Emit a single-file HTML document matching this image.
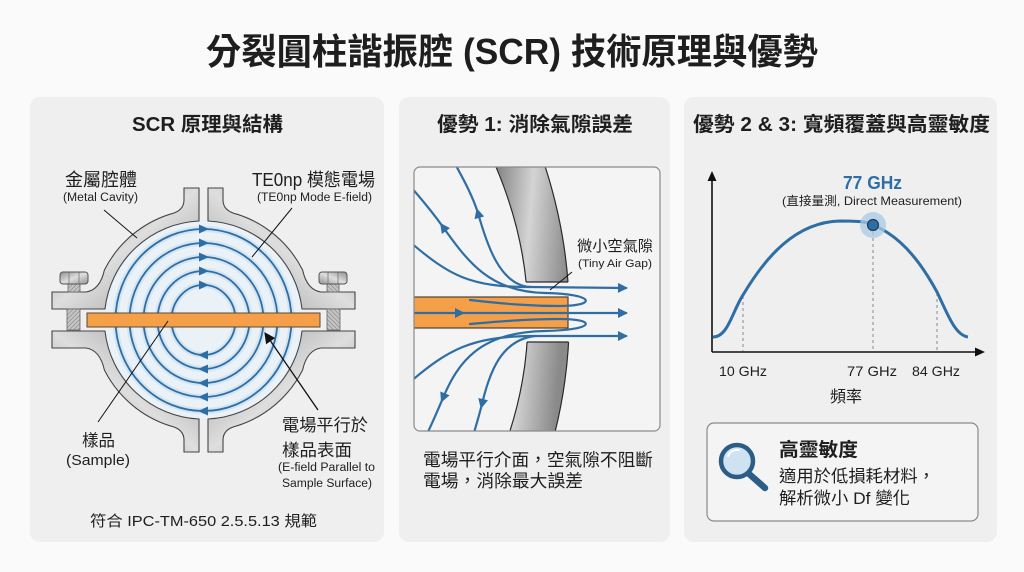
<!DOCTYPE html>
<html><head><meta charset="utf-8">
<style>
html,body{margin:0;padding:0;background:#fafafa;}
svg{display:block;}
text{font-family:"Liberation Sans","Noto Sans CJK TC",sans-serif;fill:#1e1e1e;}
.b{font-weight:bold;}
</style></head>
<body>
<svg width="1024" height="572" viewBox="0 0 1024 572" xmlns="http://www.w3.org/2000/svg">
<defs>
  <linearGradient id="metal" x1="0" y1="0" x2="1" y2="1">
    <stop offset="0" stop-color="#8e8e8e"/>
    <stop offset="0.5" stop-color="#dedede"/>
    <stop offset="1" stop-color="#949494"/>
  </linearGradient>
  <linearGradient id="wall" x1="0" y1="0" x2="1" y2="0.3">
    <stop offset="0" stop-color="#7a7a7a"/>
    <stop offset="0.5" stop-color="#d4d4d4"/>
    <stop offset="1" stop-color="#8a8a8a"/>
  </linearGradient>
  <pattern id="hatch" width="3" height="3" patternUnits="userSpaceOnUse" patternTransform="rotate(45)">
    <rect width="3" height="3" fill="#c4c4c4"/>
    <line x1="0" y1="0" x2="0" y2="3" stroke="#7a7a7a" stroke-width="1"/>
  </pattern>
  <marker id="ah" viewBox="0 0 10 10" refX="8" refY="5" markerUnits="userSpaceOnUse" markerWidth="11" markerHeight="10" orient="auto">
    <path d="M0,0 L10,5 L0,10 z" fill="#2f6ea5"/>
  </marker>
  <marker id="am" viewBox="0 0 10 10" refX="5" refY="5" markerUnits="userSpaceOnUse" markerWidth="11" markerHeight="10" orient="auto">
    <path d="M0,0 L10,5 L0,10 z" fill="#2f6ea5"/>
  </marker>
  <marker id="ak" viewBox="0 0 10 10" refX="9" refY="5" markerUnits="userSpaceOnUse" markerWidth="12" markerHeight="11" orient="auto">
    <path d="M0,0 L10,5 L0,10 z" fill="#111"/>
  </marker>
  <clipPath id="box2"><rect x="414" y="167" width="246" height="264" rx="6"/></clipPath>
  <clipPath id="wallclip"><rect x="400" y="150" width="270" height="132"/><rect x="400" y="342" width="270" height="100"/></clipPath>
</defs>

<!-- Title -->
<text class="b" x="206" y="64" font-size="36" textLength="612" lengthAdjust="spacingAndGlyphs">分裂圓柱諧振腔 (SCR) 技術原理與優勢</text>

<!-- Panels -->
<rect x="30" y="97" width="354" height="445" rx="10" fill="#efefef"/>
<rect x="399" y="97" width="271" height="445" rx="10" fill="#efefef"/>
<rect x="684" y="97" width="313" height="445" rx="10" fill="#efefef"/>

<!-- Panel headers -->
<text class="b" x="132" y="131" font-size="20" textLength="151" lengthAdjust="spacingAndGlyphs">SCR 原理與結構</text>
<text class="b" x="437" y="131" font-size="20" textLength="196" lengthAdjust="spacingAndGlyphs">優勢 1: 消除氣隙誤差</text>
<text class="b" x="693" y="131" font-size="20" textLength="297" lengthAdjust="spacingAndGlyphs">優勢 2 &amp; 3: 寬頻覆蓋與高靈敏度</text>

<!-- ============ Panel 1 : cavity ============ -->
<circle cx="203.5" cy="320" r="99" fill="#eaf2f8"/>
<g fill="none">
  <ellipse cx="203.5" cy="320" rx="88" ry="91" stroke="#d3e5f2" stroke-width="6"/>
  <ellipse cx="203.5" cy="320" rx="74" ry="77" stroke="#d3e5f2" stroke-width="6"/>
  <ellipse cx="203.5" cy="320" rx="60" ry="63" stroke="#d3e5f2" stroke-width="6"/>
  <ellipse cx="203.5" cy="320" rx="46" ry="49" stroke="#d3e5f2" stroke-width="6"/>
  <ellipse cx="203.5" cy="320" rx="32" ry="35" stroke="#d3e5f2" stroke-width="6"/>
  <ellipse cx="203.5" cy="320" rx="88" ry="91" stroke="#2f6ea5" stroke-width="1.8"/>
  <ellipse cx="203.5" cy="320" rx="74" ry="77" stroke="#2f6ea5" stroke-width="1.8"/>
  <ellipse cx="203.5" cy="320" rx="60" ry="63" stroke="#2f6ea5" stroke-width="1.8"/>
  <ellipse cx="203.5" cy="320" rx="46" ry="49" stroke="#2f6ea5" stroke-width="1.8"/>
  <ellipse cx="203.5" cy="320" rx="32" ry="35" stroke="#2f6ea5" stroke-width="1.8"/>
</g>
<g fill="#2f6ea5">
  <polygon points="209,229 199,224.5 199,233.5"/>
  <polygon points="209,243 199,238.5 199,247.5"/>
  <polygon points="209,257 199,252.5 199,261.5"/>
  <polygon points="209,271 199,266.5 199,275.5"/>
  <polygon points="209,285 199,280.5 199,289.5"/>
  <polygon points="198,355 208,350.5 208,359.5"/>
  <polygon points="198,369 208,364.5 208,373.5"/>
  <polygon points="198,383 208,378.5 208,387.5"/>
  <polygon points="198,397 208,392.5 208,401.5"/>
  <polygon points="198,411 208,406.5 208,415.5"/>
</g>
<!-- sample -->
<rect x="87" y="313" width="233" height="14" fill="#f5a048" stroke="#5a4a3a" stroke-width="1"/>

<!-- cavity quarter pieces -->
<g id="cq">
  <path d="M184,188 L199,188 L199,221 A99 99 0 0 0 105,309 L52,309 L52,292 L86,292 Q100,290 104.4,270 A111 111 0 0 1 170,214.2 Q184,211 184,200 Z" fill="url(#metal)" stroke="#454545" stroke-width="1.1"/>
</g>
<use href="#cq" transform="matrix(-1,0,0,1,407,0)"/>
<use href="#cq" transform="matrix(1,0,0,-1,0,640)"/>
<use href="#cq" transform="matrix(-1,0,0,-1,407,640)"/>

<!-- bolts -->
<g id="bolt">
  <rect x="68" y="284" width="12" height="8" fill="url(#hatch)" stroke="#666" stroke-width="0.8"/>
  <rect x="67" y="309" width="13" height="21" fill="url(#hatch)" stroke="#666" stroke-width="0.8"/>
  <rect x="60" y="272" width="28" height="12" rx="3" fill="url(#metal)" stroke="#555" stroke-width="1"/>
  <line x1="69" y1="272.5" x2="69" y2="283.5" stroke="#777" stroke-width="0.8"/>
  <line x1="79" y1="272.5" x2="79" y2="283.5" stroke="#777" stroke-width="0.8"/>
</g>
<use href="#bolt" transform="matrix(-1,0,0,1,407,0)"/>

<!-- panel 1 leaders -->
<g stroke="#111" stroke-width="1" fill="none">
  <line x1="104" y1="210" x2="137" y2="238"/>
  <line x1="292" y1="208" x2="252" y2="257"/>
  <line x1="98" y1="422" x2="168" y2="321"/>
  <line x1="318" y1="410" x2="265" y2="333" stroke-width="1.3" marker-end="url(#ak)"/>
</g>

<!-- panel 1 labels -->
<text x="65" y="186" font-size="18" textLength="72" lengthAdjust="spacingAndGlyphs">金屬腔體</text>
<text x="63" y="201" font-size="11.5" textLength="75" lengthAdjust="spacingAndGlyphs">(Metal Cavity)</text>
<text x="252" y="186" font-size="18" textLength="123" lengthAdjust="spacingAndGlyphs">TE0np 模態電場</text>
<text x="257" y="201" font-size="11.5" textLength="115" lengthAdjust="spacingAndGlyphs">(TE0np Mode E-field)</text>
<text x="82" y="446" font-size="16.5" textLength="33" lengthAdjust="spacingAndGlyphs">樣品</text>
<text x="66" y="465" font-size="15" textLength="64" lengthAdjust="spacingAndGlyphs">(Sample)</text>
<text x="282" y="431" font-size="17" textLength="86" lengthAdjust="spacingAndGlyphs">電場平行於</text>
<text x="282" y="456" font-size="17" textLength="70" lengthAdjust="spacingAndGlyphs">樣品表面</text>
<text x="278" y="471" font-size="11.5" textLength="97" lengthAdjust="spacingAndGlyphs">(E-field Parallel to</text>
<text x="282" y="487" font-size="11.5" textLength="90" lengthAdjust="spacingAndGlyphs">Sample Surface)</text>
<text x="90" y="526" font-size="15" textLength="227" lengthAdjust="spacingAndGlyphs">符合 IPC-TM-650 2.5.5.13 規範</text>

<!-- ============ Panel 2 ============ -->
<rect x="414" y="167" width="246" height="264" rx="6" fill="#f4f4f4"/>
<g clip-path="url(#box2)">
  <g clip-path="url(#wallclip)">
    <path d="M493,160 Q555,300 507,440 L553,440 Q590,300 543,160 Z" fill="url(#wall)" stroke="#2a2a2a" stroke-width="1.2"/>
  </g>
  <line x1="526" y1="282" x2="568" y2="282" stroke="#2a2a2a" stroke-width="1.2"/>
  <line x1="527" y1="342" x2="568.5" y2="342" stroke="#2a2a2a" stroke-width="1.2"/>
  <!-- sample -->
  <rect x="408" y="297" width="160" height="31" fill="#f5a048" stroke="#4a4036" stroke-width="1.2"/>
  <g fill="none" stroke="#2f6ea5" stroke-width="2.2" stroke-linecap="round">
    <!-- top lines -->
    <path d="M530,287 C500,285 487,245 478,213" marker-end="url(#am)"/>
    <path d="M478,213 C471,192 462,177 453,160"/>
    <path d="M530,287 L626,288" marker-end="url(#ah)"/>
    <path d="M545,293 C490,292 468,262 443,227" marker-end="url(#am)"/>
    <path d="M443,227 C433,213 424,202 410,186"/>
    <path d="M545,293 C596,294 597,306 560,306 C530,306 505,304 470,300"/>
    <path d="M410,242 C450,276 470,287 530,287"/>
    <!-- centre -->
    <path d="M410,313 L460,313" marker-end="url(#am)"/>
    <path d="M460,313 L626,313" marker-end="url(#ah)"/>
    <!-- bottom lines -->
    <path d="M410,382 C448,350 470,337 530,336 L626,336" marker-end="url(#ah)"/>
    <path d="M545,331 C480,332 458,362 443,398" marker-end="url(#am)"/>
    <path d="M443,398 C437,412 432,424 426,436"/>
    <path d="M545,331 C596,330 597,319 560,319 C530,319 505,321 470,324"/>
    <path d="M535,336 C502,340 490,370 482,404" marker-end="url(#am)"/>
    <path d="M482,404 C479,416 476,426 473,436"/>
  </g>
  <line x1="572" y1="272" x2="550" y2="290" stroke="#111" stroke-width="1"/>
</g>
<rect x="414" y="167" width="246" height="264" rx="6" fill="none" stroke="#8a8a8a" stroke-width="1.2"/>

<text x="577" y="251" font-size="15" textLength="76" lengthAdjust="spacingAndGlyphs">微小空氣隙</text>
<text x="578" y="267" font-size="11" textLength="74" lengthAdjust="spacingAndGlyphs">(Tiny Air Gap)</text>
<text x="423" y="466" font-size="17.5" textLength="230" lengthAdjust="spacingAndGlyphs">電場平行介面，空氣隙不阻斷</text>
<text x="423" y="487" font-size="17.5" textLength="160" lengthAdjust="spacingAndGlyphs">電場，消除最大誤差</text>

<!-- ============ Panel 3 ============ -->
<g stroke="#111" stroke-width="1.6">
  <line x1="712" y1="352" x2="712" y2="180"/>
  <line x1="712" y1="352" x2="976" y2="352"/>
</g>
<polygon points="712,171 707.5,181 716.5,181" fill="#111"/>
<polygon points="985,352 975,347.5 975,356.5" fill="#111"/>
<g stroke="#8a8a8a" stroke-width="1" stroke-dasharray="3,3">
  <line x1="743" y1="296" x2="743" y2="351"/>
  <line x1="873" y1="226" x2="873" y2="351"/>
  <line x1="937" y1="293" x2="937" y2="351"/>
</g>
<path d="M713,337 C728,337 732,312 743,295 C765,258 795,222 840,221 C860,221 868,222 873,225 C905,238 925,270 937,292 C948,315 955,335 968,337" fill="none" stroke="#2f6ea5" stroke-width="3"/>
<circle cx="873" cy="225" r="13" fill="#a9c9e4" opacity="0.75"/>
<circle cx="873" cy="225" r="5.5" fill="#2f6ea5" stroke="#1d3e5c" stroke-width="1.2"/>

<text class="b" x="843" y="189" font-size="18" textLength="59" lengthAdjust="spacingAndGlyphs" style="fill:#2f6ea5">77 GHz</text>
<text x="782" y="205" font-size="12" textLength="180" lengthAdjust="spacingAndGlyphs">(直接量測, Direct Measurement)</text>
<text x="719" y="376" font-size="14" textLength="48" lengthAdjust="spacingAndGlyphs">10 GHz</text>
<text x="847" y="376" font-size="14" textLength="50" lengthAdjust="spacingAndGlyphs">77 GHz</text>
<text x="912" y="376" font-size="14" textLength="48" lengthAdjust="spacingAndGlyphs">84 GHz</text>
<text x="830" y="402" font-size="16" textLength="32" lengthAdjust="spacingAndGlyphs">頻率</text>

<rect x="707" y="423" width="271" height="98" rx="7" fill="#f4f4f4" stroke="#8a8a8a" stroke-width="1.2"/>
<line x1="748" y1="473" x2="765" y2="488" stroke="#2c5d87" stroke-width="6.5" stroke-linecap="round"/>
<circle cx="737" cy="461" r="16" fill="#cfe2f2" stroke="#2c5d87" stroke-width="4.5"/>
<path d="M728,456 A10 10 0 0 1 739,450" fill="none" stroke="#ffffff" stroke-width="2" stroke-linecap="round"/>
<text class="b" x="779" y="456" font-size="19" textLength="79" lengthAdjust="spacingAndGlyphs">高靈敏度</text>
<text x="779" y="482" font-size="17" textLength="156" lengthAdjust="spacingAndGlyphs">適用於低損耗材料，</text>
<text x="779" y="504" font-size="17" textLength="131" lengthAdjust="spacingAndGlyphs">解析微小 Df 變化</text>
</svg>
</body></html>
